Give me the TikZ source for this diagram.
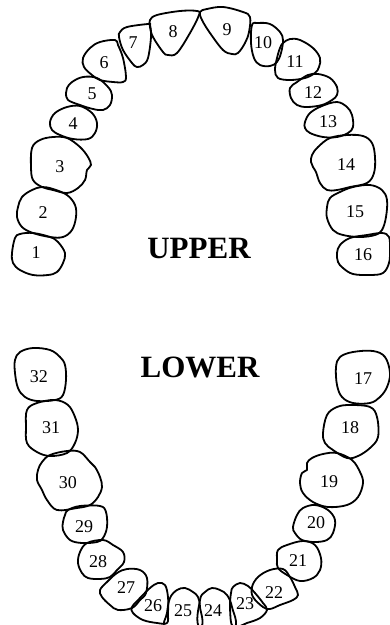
\documentclass[tikz,border=0pt]{standalone}
\usepackage{fontspec}
\setmainfont{Liberation Serif}
\begin{document}
\begin{tikzpicture}[x=1pt,y=-1pt,
    tooth/.style={draw,line width=1.8pt,line join=round},
    jaw/.style={font=\fontsize{31}{31}\selectfont\bfseries}]

      \useasboundingbox (0,0) rectangle (390,625);
      \clip (0,0) rectangle (390,625);

      % upper teeth
      \begin{scope}[smooth cycle,tension=0.6]
        \draw[tooth] plot coordinates {(12,253) (15,238) (20,234) (33,233) (50,237) (58,242) (65,253) (63,263) (57,272) (48,275) (33,275) (20,270) (13,263)};
        \draw[tooth] plot coordinates {(18,207) (22,197) (32,190) (42,187) (53,189) (67,195) (75,205) (76,217) (72,230) (63,237) (50,237) (33,233) (22,227) (17,217)};
        \draw[tooth] plot coordinates {(32,148) (40,140) (53,137) (67,138) (80,147) (88,157) (91,165) (87,170) (85,180) (78,188) (67,193) (53,190) (42,187) (33,180) (31,167)};
        \draw[tooth] plot coordinates {(50,122) (55,113) (67,107) (80,106) (92,113) (97,123) (95,133) (88,139) (73,139) (60,135) (52,130)};
        \draw[tooth] plot coordinates {(67,88) (72,82) (83,77) (97,78) (108,87) (112,95) (110,105) (103,110) (93,109) (80,105) (68,100) (66,93)};
        \draw[tooth] plot coordinates {(83,58) (90,48) (100,42) (115,40) (118,45) (123,58) (126,77) (123,82) (113,82) (100,80) (92,75) (84,67)};
        \draw[tooth] plot coordinates {(120,32) (127,27) (148,24) (150,25) (151,37) (148,58) (143,65) (137,67) (132,63) (123,50) (119,37)};
        \draw[tooth] plot coordinates {(150,20) (157,15) (180,11) (197,11) (199,15) (190,33) (177,53) (168,55) (163,52) (153,37) (150,27)};
        \draw[tooth] plot coordinates {(200,12) (207,9) (223,7) (243,12) (250,17) (249,32) (245,43) (238,53) (232,54) (223,50) (210,33) (202,20)};
        \draw[tooth] plot coordinates {(252,25) (258,23) (270,24) (280,32) (283,40) (281,53) (277,62) (270,66) (260,65) (254,58) (251,43)};
        \draw[tooth] plot coordinates {(283,43) (290,39) (300,40) (313,48) (320,58) (319,67) (315,73) (305,78) (290,80) (278,78) (275,70) (277,58) (280,48)};
        \draw[tooth] plot coordinates {(290,88) (297,82) (308,75) (318,74) (330,78) (337,87) (337,95) (332,100) (322,105) (307,107) (297,105) (291,98)};
        \draw[tooth] plot coordinates {(305,122) (310,113) (322,106) (337,102) (347,107) (352,115) (353,127) (348,133) (337,137) (323,137) (310,133) (305,128)};
        \draw[tooth] plot coordinates {(312,155) (318,147) (330,138) (347,135) (363,136) (372,143) (375,157) (374,173) (367,183) (350,187) (337,190) (327,190) (320,183) (316,172) (313,167) (311,162)};
        \draw[tooth] plot coordinates {(327,207) (330,198) (340,192) (353,187) (370,185) (382,190) (387,200) (386,217) (382,230) (375,235) (360,237) (343,235) (333,230) (327,218)};
        \draw[tooth] plot coordinates {(337,253) (340,245) (350,238) (367,235) (382,233) (389,237) (390,250) (389,263) (383,273) (370,275) (353,274) (343,268) (338,262)};
      \end{scope}

      % lower teeth
      \begin{scope}[smooth cycle,tension=0.6]
        \draw[tooth] plot coordinates {(336,367) (340,357) (353,352) (373,351) (385,357) (390,373) (387,387) (380,397) (370,403) (353,403) (342,397) (337,385)};
        \draw[tooth] plot coordinates {(323,433) (327,415) (337,407) (350,405) (370,407) (377,417) (378,437) (370,448) (358,456) (347,458) (333,450) (325,443)};
        \draw[tooth] plot coordinates {(300,483) (302,473) (307,470) (307,463) (312,458) (323,454) (337,453) (352,460) (360,472) (363,483) (358,497) (347,505) (328,507) (313,502) (303,493)};
        \draw[tooth] plot coordinates {(293,527) (297,515) (303,508) (315,505) (328,510) (335,520) (333,533) (327,540) (315,542) (302,540) (295,533)};
        \draw[tooth] plot coordinates {(277,560) (278,550) (287,545) (303,541) (315,545) (321,558) (320,570) (313,578) (300,581) (287,575) (278,568)};
        \draw[tooth] plot coordinates {(252,587) (258,577) (270,570) (283,569) (290,577) (295,587) (298,595) (293,600) (280,605) (270,609) (263,607) (253,597)};
        \draw[tooth] plot coordinates {(230,608) (231,593) (233,587) (240,583) (248,586) (255,593) (263,603) (267,610) (260,618) (247,623) (233,627)};
        \draw[tooth] plot coordinates {(200,600) (205,592) (212,588) (220,590) (227,595) (232,607) (234,628) (200,628)};
        \draw[tooth] plot coordinates {(167,613) (170,598) (177,590) (185,588) (193,592) (198,597) (200,607) (200,628) (166,628)};
        \draw[tooth] plot coordinates {(132,607) (140,598) (150,588) (158,583) (165,585) (168,597) (168,613) (167,623) (157,623) (143,620) (133,613)};
        \draw[tooth] plot coordinates {(100,590) (107,582) (117,573) (127,569) (140,570) (147,578) (146,593) (140,600) (132,608) (118,610) (110,605) (102,597)};
        \draw[tooth] plot coordinates {(80,552) (87,543) (103,540) (113,545) (123,552) (124,562) (117,570) (110,577) (100,579) (88,578) (82,573) (78,563)};
        \draw[tooth] plot coordinates {(65,515) (68,510) (80,506) (100,506) (106,512) (107,527) (103,538) (97,542) (82,543) (70,540) (63,530) (63,522)};
        \draw[tooth] plot coordinates {(38,470) (42,462) (50,455) (67,451) (80,452) (90,462) (95,467) (100,477) (102,487) (98,497) (90,505) (77,508) (57,510) (47,500) (42,490) (37,480)};
        \draw[tooth] plot coordinates {(27,410) (37,403) (55,400) (68,405) (75,417) (78,430) (75,443) (67,453) (50,456) (37,452) (27,443) (26,427)};
        \draw[tooth] plot coordinates {(15,360) (20,352) (33,348) (50,350) (60,357) (65,365) (66,380) (63,395) (55,400) (37,401) (25,397) (18,388) (15,373)};
      \end{scope}

      \begin{scope}[every node/.style={inner sep=0pt,font=\fontsize{18}{18}\selectfont}]
        \node (n1)  at (36,253)  {1};
        \node (n2)  at (43,213)  {2};
        \node (n3)  at (60,167)  {3};
        \node (n4)  at (73,124)  {4};
        \node (n5)  at (92,94)   {5};
        \node (n6)  at (104,63)  {6};
        \node (n7)  at (133,43)  {7};
        \node (n8)  at (173,32)  {8};
        \node (n9)  at (227,30)  {9};
        \node (n10) at (263,43)  {10};
        \node (n11) at (295,62)  {11};
        \node (n12) at (313,93)  {12};
        \node (n13) at (328,122) {13};
        \node (n14) at (346,165) {14};
        \node (n15) at (355,212) {15};
        \node (n16) at (363,255) {16};
        \node (n17) at (363,379) {17};
        \node (n18) at (350,428) {18};
        \node (n19) at (329,482) {19};
        \node (n20) at (316,523) {20};
        \node (n21) at (298,561) {21};
        \node (n22) at (274,593) {22};
        \node (n23) at (245,604) {23};
        \node (n24) at (213,611) {24};
        \node (n25) at (183,611) {25};
        \node (n26) at (153,606) {26};
        \node (n27) at (126,588) {27};
        \node (n28) at (98,562)  {28};
        \node (n29) at (84,527)  {29};
        \node (n30) at (68,483)  {30};
        \node (n31) at (51,428)  {31};
        \node (n32) at (39,377)  {32};
      \end{scope}

      \node[jaw] (upper) at (199,248) {UPPER};
      \node[jaw] (lower) at (200,367) {LOWER};

    \end{tikzpicture}
\end{document}
